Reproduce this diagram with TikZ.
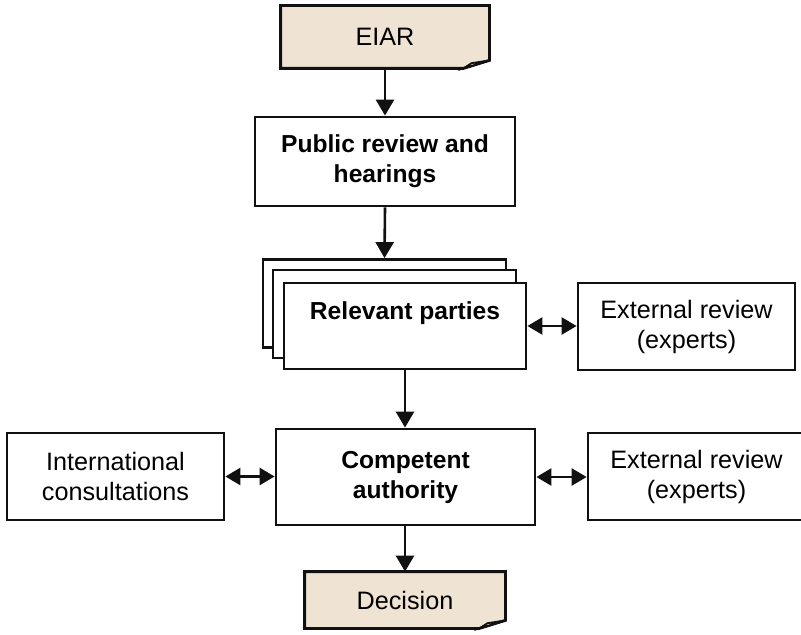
\documentclass[tikz,border=0pt]{standalone}
\usepackage{fontspec}
\setmainfont{Liberation Sans}
\usepackage{xcolor}
\usepackage{tikz}
\usetikzlibrary{arrows.meta, positioning, calc}
\definecolor{docfill}{HTML}{EFE3D3}
\definecolor{docflap}{HTML}{F8F2EA}
\definecolor{flowink}{HTML}{111111}
% outline of a document box with a folded bottom-right corner
\newcommand{\docshape}[1]{%
  \draw[docline, fill=docfill] (#1.north west) -- (#1.north east)
    -- ([yshift=4pt]#1.south east) -- ([xshift=-13pt]#1.south east)
    -- (#1.south west) -- cycle;
  \draw[docline, line width=0.9pt, fill=docflap] ([xshift=-13pt]#1.south east)
    -- ([xshift=-9pt,yshift=2.6pt]#1.south east) -- ([yshift=4pt]#1.south east) -- cycle;}

\begin{document}
\begin{tikzpicture}[
  x=0.5pt, y=-0.5pt,
  font=\fontsize{12.6}{15}\selectfont,
  box/.style={
    draw=flowink,
    line width=1.4pt,
    fill=white,
    align=center,
    inner sep=2pt
  },
  stepbox/.style={box, font=\fontsize{12.3}{15}\selectfont\bfseries},
  sidebox/.style={box, minimum width=108.5pt, minimum height=43.5pt},
  sheet/.style={box, minimum width=121.5pt, minimum height=44pt},
  docnode/.style={minimum width=#1, minimum height=28pt, inner sep=0pt},
  docline/.style={draw=flowink, line width=1.4pt, line join=miter},
  flow/.style={-{Triangle[length=8pt,width=9pt]}, line width=1.3pt, draw=flowink},
  twoway/.style={{Triangle[length=7.5pt,width=8.5pt]}-{Triangle[length=7.5pt,width=8.5pt]}, line width=1.3pt, draw=flowink}
]
\useasboundingbox (0,0) rectangle (801,635);

% documents
\node[docnode=104pt, minimum height=31pt] (eiar) at (385,37) {};
\docshape{eiar}
\node (eiartext) at (eiar.center) {EIAR};

\node[stepbox, minimum width=130pt, minimum height=44.5pt] (review) at (385,161.5)
  {Public review and\\hearings};

% stacked sheets of relevant parties
\node[sheet] (partyback) at (384.5,303.5) {};
\node[sheet] (partymid) at (394.5,314) {};
\node[sheet, minimum width=121pt, minimum height=43pt] (party) at (405,326) {};
\node[font=\fontsize{12.3}{15}\selectfont\bfseries] (partytext) at (405,313) {Relevant parties};

\node[sidebox] (extreview) at (686.5,326.5) {External review\\(experts)};

\node[stepbox, minimum width=129.5pt, minimum height=48pt] (authority) at (405.5,477)
  {Competent\\authority};
\node[sidebox] (intl) at (115.5,476.5) {International\\consultations};
\node[sidebox] (extexperts) at (696.5,476.5) {External review\\(experts)};

\node[docnode=100pt] (decision) at (405,600) {};
\docshape{decision}
\node (decisiontext) at (decision.center) {Decision};

\draw[flow] (eiar.south) -- (review.north);
\draw[flow] (review.south) -- (partyback.north);
\draw[flow] (party.south) -- (party.south |- authority.north);
\draw[flow] (authority.south -| decision.north) -- (decision.north);

\draw[twoway] (party.east) -- (party.east -| extreview.west);
\draw[twoway] (intl.east) -- (intl.east -| authority.west);
\draw[twoway] (authority.east) -- (authority.east -| extexperts.west);

\end{tikzpicture}
\end{document}
